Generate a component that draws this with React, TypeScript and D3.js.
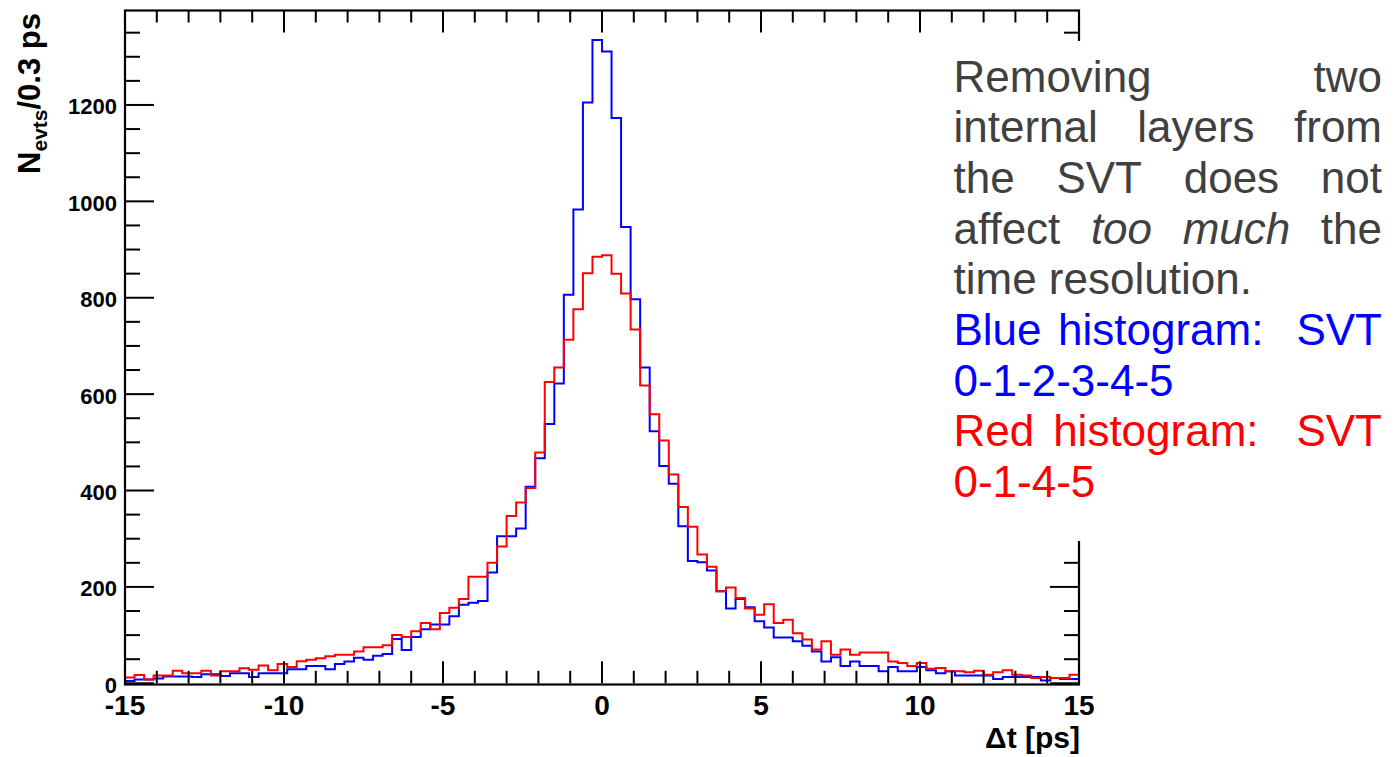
import React, { useMemo } from "react";
import * as d3 from "d3";

// ---------------- data ----------------
const X_MIN = -15;
const X_MAX = 15;
const BIN_WIDTH = 0.3;
const Y_MAX = 1396;

// Blue histogram: SVT 0-1-2-3-4-5 (100 bins of 0.3 ps from -15 to 15)
const blueCounts = [
  5, 8, 8, 10, 14, 14, 14, 13, 19, 19,
  15, 21, 21, 13, 21, 21, 21, 29, 29, 36,
  36, 29, 40, 45, 53, 49, 57, 61, 92, 69,
  96, 112, 122, 122, 139, 163, 167, 171, 230, 305,
  305, 321, 408, 467, 538, 622, 806, 983, 1205, 1335,
  1311, 1173, 947, 797, 655, 523, 451, 414, 326, 254,
  251, 234, 191, 155, 175, 158, 129, 116, 95, 95,
  87, 78, 66, 45, 54, 36, 45, 36, 36, 25,
  34, 25, 25, 34, 27, 21, 25, 16, 16, 16,
  16, 9, 13, 13, 13, 13, 6, 11, 9, 9,
];

// Red histogram: SVT 0-1-4-5
const redCounts = [
  12, 17, 8, 16, 16, 26, 21, 21, 26, 16,
  25, 25, 31, 28, 37, 27, 40, 34, 46, 49,
  52, 56, 59, 59, 66, 75, 75, 79, 100, 96,
  108, 125, 112, 146, 157, 175, 221, 221, 250, 284,
  347, 375, 405, 479, 625, 655, 713, 776, 851, 885,
  888, 850, 809, 734, 618, 558, 504, 433, 366, 325,
  267, 242, 191, 199, 177, 155, 142, 164, 125, 132,
  104, 91, 70, 87, 59, 70, 59, 64, 64, 64,
  45, 42, 36, 42, 30, 32, 25, 25, 23, 26,
  18, 23, 27, 18, 16, 11, 13, 11, 11, 18,
];

const xMajorTicks = [-15, -10, -5, 0, 5, 10, 15];
const xMinorStep = 1;
const yMajorTicks = [0, 200, 400, 600, 800, 1000, 1200];
const yMinorStep = 50;

const xTitle = "Δt [ps]";
const yTitleMain = "N";
const yTitleSub = "evts";
const yTitleRest = "/0.3 ps";

type Word = { text: string; italic?: boolean; gap?: number };
type NoteLine = { words: Word[]; justify: boolean; color: string };

const GRAY = "#404040";
const BLUE = "#0000ff";
const RED = "#ff0000";

const noteLines: NoteLine[] = [
  { words: [{ text: "Removing" }, { text: "two" }], justify: true, color: GRAY },
  { words: [{ text: "internal" }, { text: "layers" }, { text: "from" }], justify: true, color: GRAY },
  { words: [{ text: "the" }, { text: "SVT" }, { text: "does" }, { text: "not" }], justify: true, color: GRAY },
  {
    words: [{ text: "affect" }, { text: "too", italic: true }, { text: "much", italic: true }, { text: "the" }],
    justify: true,
    color: GRAY,
  },
  { words: [{ text: "time resolution." }], justify: false, color: GRAY },
  { words: [{ text: "Blue" }, { text: "histogram:" }, { text: "SVT", gap: 2 }], justify: true, color: BLUE },
  { words: [{ text: "0-1-2-3-4-5" }], justify: false, color: BLUE },
  { words: [{ text: "Red" }, { text: "histogram:" }, { text: "SVT", gap: 2 }], justify: true, color: RED },
  { words: [{ text: "0-1-4-5" }], justify: false, color: RED },
];

// ---------------- layout ----------------
const W = 1396;
const H = 757;
const PLOT_LEFT = 125;
const PLOT_RIGHT = 1079;
const PLOT_TOP = 10.5;
const PLOT_BOTTOM = 683.3;

const NOTE_FONT = 44;
const NOTE_LEFT = 953.5;
const NOTE_RIGHT = 1382;
const NOTE_BASE = 91.5;
const NOTE_PITCH = 50.7;

let _ctx: CanvasRenderingContext2D | null = null;
function measure(text: string, italic: boolean) {
  if (!_ctx) {
    const c = document.createElement("canvas");
    _ctx = c.getContext("2d");
  }
  if (!_ctx) return text.length * NOTE_FONT * 0.5;
  _ctx.font = `${italic ? "italic " : ""}${NOTE_FONT}px "Liberation Sans", Arial, sans-serif`;
  return _ctx.measureText(text).width;
}

function histPath(counts: number[], x: d3.ScaleLinear<number, number>, y: d3.ScaleLinear<number, number>) {
  const pts: [number, number][] = [[X_MIN, 0]];
  counts.forEach((c, i) => pts.push([X_MIN + i * BIN_WIDTH, c]));
  pts.push([X_MAX, counts[counts.length - 1]]);
  pts.push([X_MAX, 0]);
  const line = d3
    .line<[number, number]>()
    .x((d) => x(d[0]))
    .y((d) => y(d[1]))
    .curve(d3.curveStepAfter);
  return line(pts) || "";
}

export default function App() {
  const x = d3.scaleLinear().domain([X_MIN, X_MAX]).range([PLOT_LEFT, PLOT_RIGHT]);
  const y = d3.scaleLinear().domain([0, Y_MAX]).range([PLOT_BOTTOM, PLOT_TOP]);

  const xMinor = d3.range(X_MIN, X_MAX + 1e-9, xMinorStep).filter((v) => !xMajorTicks.includes(v));
  const yMinor = d3.range(0, Y_MAX, yMinorStep).filter((v) => !yMajorTicks.includes(v));

  const notePlaced = useMemo(() => {
    return noteLines.map((ln) => {
      const widths = ln.words.map((w) => measure(w.text, !!w.italic));
      const spaceW = measure(" ", false);
      const gaps = ln.words.map((w, i) => (i === 0 ? 0 : w.gap ?? 1));
      const totalGapUnits = gaps.reduce((a, b) => a + b, 0);
      const sumW = widths.reduce((a, b) => a + b, 0);
      const unit =
        ln.justify && totalGapUnits > 0 ? (NOTE_RIGHT - NOTE_LEFT - sumW) / totalGapUnits : spaceW;
      let cx = NOTE_LEFT;
      return ln.words.map((w, i) => {
        cx += gaps[i] * unit;
        const px = cx;
        cx += widths[i];
        return { ...w, x: px };
      });
    });
  }, []);

  const axisColor = "#000";
  const labelFont = '"Liberation Sans", Arial, sans-serif';

  return (
    <div style={{ position: "fixed", left: 0, top: 0, width: W, height: H, background: "#fff" }}>
      <svg width={W} height={H} viewBox={`0 0 ${W} ${H}`} style={{ display: "block" }}>
        <rect x={0} y={0} width={W} height={H} fill="#fff" />

        {/* histograms */}
        <path d={histPath(blueCounts, x, y)} fill="none" stroke={BLUE} strokeWidth={2} />
        <path d={histPath(redCounts, x, y)} fill="none" stroke={RED} strokeWidth={2} />

        {/* frame */}
        <rect
          x={PLOT_LEFT}
          y={PLOT_TOP}
          width={PLOT_RIGHT - PLOT_LEFT}
          height={PLOT_BOTTOM + 1.2 - PLOT_TOP}
          fill="none"
          stroke={axisColor}
          strokeWidth={2.2}
        />

        {/* x ticks bottom & top */}
        {xMajorTicks.map((v) => (
          <g key={"xM" + v}>
            <line x1={x(v)} x2={x(v)} y1={PLOT_BOTTOM} y2={PLOT_BOTTOM - 22} stroke={axisColor} strokeWidth={2} />
            <line x1={x(v)} x2={x(v)} y1={PLOT_TOP} y2={PLOT_TOP + 22} stroke={axisColor} strokeWidth={2} />
          </g>
        ))}
        {xMinor.map((v) => (
          <g key={"xm" + v}>
            <line x1={x(v)} x2={x(v)} y1={PLOT_BOTTOM} y2={PLOT_BOTTOM - 12.5} stroke={axisColor} strokeWidth={2} />
            <line x1={x(v)} x2={x(v)} y1={PLOT_TOP} y2={PLOT_TOP + 12} stroke={axisColor} strokeWidth={2} />
          </g>
        ))}

        {/* y ticks left & right */}
        {yMajorTicks.map((v) => (
          <g key={"yM" + v}>
            <line x1={PLOT_LEFT} x2={PLOT_LEFT + 29} y1={y(v)} y2={y(v)} stroke={axisColor} strokeWidth={2} />
            <line x1={PLOT_RIGHT} x2={PLOT_RIGHT - 29} y1={y(v)} y2={y(v)} stroke={axisColor} strokeWidth={2} />
          </g>
        ))}
        {yMinor.map((v) => (
          <g key={"ym" + v}>
            <line x1={PLOT_LEFT} x2={PLOT_LEFT + 15} y1={y(v)} y2={y(v)} stroke={axisColor} strokeWidth={2} />
            <line x1={PLOT_RIGHT} x2={PLOT_RIGHT - 15} y1={y(v)} y2={y(v)} stroke={axisColor} strokeWidth={2} />
          </g>
        ))}

        {/* tick labels */}
        {xMajorTicks.map((v) => (
          <text
            key={"xl" + v}
            x={x(v)}
            y={715}
            textAnchor="middle"
            fontFamily={labelFont}
            fontWeight="bold"
            fontSize={28}
            fill="#000"
          >
            {String(v)}
          </text>
        ))}
        {yMajorTicks.map((v) => (
          <text
            key={"yl" + v}
            x={117}
            y={y(v) + 9.5}
            textAnchor="end"
            fontFamily={labelFont}
            fontWeight="bold"
            fontSize={22}
            fill="#000"
          >
            {String(v)}
          </text>
        ))}

        {/* axis titles */}
        <text
          x={1080}
          y={748}
          textAnchor="end"
          fontFamily={labelFont}
          fontWeight="bold"
          fontSize={30}
          fill="#000"
        >
          {xTitle}
        </text>
        <text
          transform="translate(40,13) rotate(-90)"
          textAnchor="end"
          fontFamily={labelFont}
          fontWeight="bold"
          fontSize={31}
          fill="#000"
        >
          {yTitleMain}
          <tspan fontSize={21} dy={7}>
            {yTitleSub}
          </tspan>
          <tspan dy={-7}>{yTitleRest}</tspan>
        </text>

        {/* annotation box */}
        <rect x={940} y={41} width={W - 940} height={500} fill="#fff" />
        {notePlaced.map((ln, li) =>
          ln.map((w, wi) => (
            <text
              key={`n${li}-${wi}`}
              x={w.x}
              y={NOTE_BASE + li * NOTE_PITCH}
              fontFamily={labelFont}
              fontSize={NOTE_FONT}
              fontStyle={w.italic ? "italic" : "normal"}
              fill={noteLines[li].color}
            >
              {w.text}
            </text>
          ))
        )}
      </svg>
    </div>
  );
}
